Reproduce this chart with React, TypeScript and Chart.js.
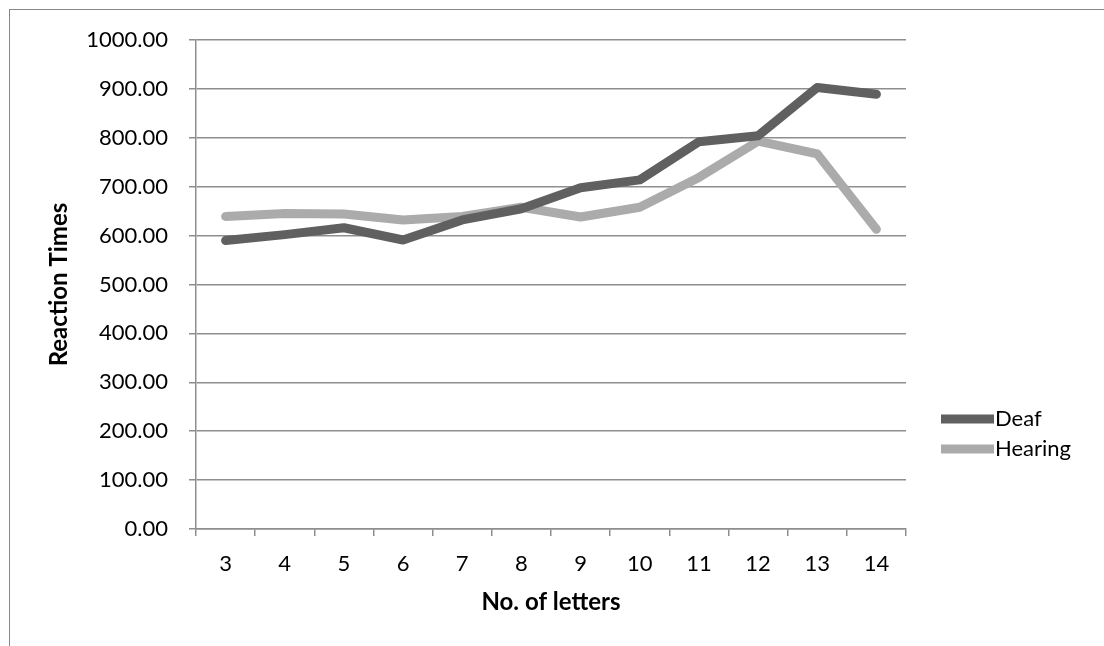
import React, { useEffect, useRef } from "react";
import { Chart, registerables } from "chart.js";

Chart.register(...registerables);

const letters = ["3", "4", "5", "6", "7", "8", "9", "10", "11", "12", "13", "14"];
const deaf = [590, 602, 616, 591, 632, 655, 698, 714, 792, 804, 903, 889];
const hearing = [639, 645, 644, 632, 639, 658, 638, 658, 719, 793, 767, 613];
const seriesNames = ["Deaf", "Hearing"];
const seriesColors = ["#606060", "#ababab"];
const yTicks = { min: 0, max: 1000, step: 100 };

const FONT = "Lato, 'Open Sans', sans-serif";
const GRID = "#8e8e8e";

const legendPlugin = {
  id: "sideLegend",
  afterDraw(chart: any) {
    const ctx = chart.ctx;
    const area = chart.chartArea;
    ctx.save();
    chart.data.datasets.forEach((ds: any, i: number) => {
      const y = 419 + i * 30;
      const x0 = area.right + 35;
      const x1 = x0 + 53;
      ctx.strokeStyle = ds.borderColor;
      ctx.lineWidth = 9;
      ctx.lineCap = "butt";
      ctx.beginPath();
      ctx.moveTo(x0, y);
      ctx.lineTo(x1, y);
      ctx.stroke();
      ctx.fillStyle = "#000";
      ctx.font = "22px " + FONT;
      ctx.textBaseline = "middle";
      ctx.textAlign = "left";
      ctx.fillText(ds.label, x1 + 1, y);
    });
    ctx.restore();
  },
};

export default function App() {
  const ref = useRef<HTMLCanvasElement | null>(null);
  useEffect(() => {
    if (!ref.current) return;
    const chart = new Chart(ref.current, {
      type: "line",
      data: {
        labels: letters,
        datasets: [deaf, hearing].map((d, i) => ({
          label: seriesNames[i],
          data: d,
          borderColor: seriesColors[i],
          backgroundColor: seriesColors[i],
          borderWidth: 9,
          borderCapStyle: "round",
          borderJoinStyle: "round",
          pointRadius: 0,
          tension: 0,
        })),
      },
      options: {
        animation: false,
        responsive: false,
        maintainAspectRatio: false,
        layout: { padding: { top: 40, right: 198, bottom: 0, left: 0 } },
        plugins: { legend: { display: false }, tooltip: { enabled: false } },
        scales: {
          x: {
            offset: true,
            grid: {
              offset: true,
              drawOnChartArea: false,
              drawTicks: true,
              tickLength: 7,
              color: GRID,
              lineWidth: 1.5,
            },
            border: { display: true, color: GRID, width: 1.5 },
            ticks: { color: "#000", font: { family: FONT, size: 22 }, padding: 15 },
            title: {
              display: true,
              text: "No. of letters",
              color: "#000",
              font: { family: FONT, size: 24, weight: "bold" },
              padding: { top: 0, bottom: 29 },
            },
            afterFit(scale: any) {
              scale.height = 117;
            },
          },
          y: {
            min: yTicks.min,
            max: yTicks.max,
            ticks: {
              stepSize: yTicks.step,
              color: "#000",
              font: { family: FONT, size: 22 },
              padding: 21,
              callback: (v: any) => Number(v).toFixed(2),
            },
            grid: { color: GRID, lineWidth: 1.5, tickLength: 7 },
            border: { display: true, color: GRID, width: 1.5 },
            title: {
              display: true,
              text: "Reaction Times",
              color: "#000",
              font: { family: FONT, size: 24, weight: "bold" },
              padding: { top: 45, bottom: 0 },
            },
            afterFit(scale: any) {
              scale.width = 196;
            },
          },
        },
      },
      plugins: [legendPlugin],
    } as any);
    return () => chart.destroy();
  }, []);

  return (
    <div
      style={{
        position: "fixed",
        left: 0,
        top: 0,
        width: 1104,
        height: 646,
        overflow: "hidden",
        background: "#fff",
      }}
    >
      <div
        style={{
          position: "absolute",
          left: 9,
          top: 9,
          width: 1200,
          height: 800,
          border: "1.5px solid #878787",
        }}
      />
      <canvas ref={ref} width={1104} height={646} style={{ position: "absolute", left: 0, top: 0 }} />
    </div>
  );
}
